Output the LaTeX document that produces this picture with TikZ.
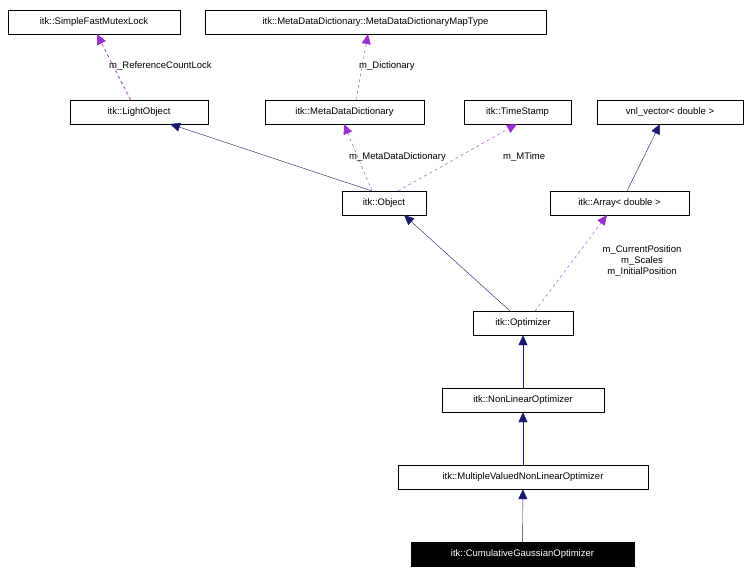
\documentclass[tikz,border=0pt]{standalone}
\usepackage{fontspec}
\setmainfont{Liberation Sans}
\usetikzlibrary{arrows.meta}
\begin{document}
\begin{tikzpicture}[x=1pt,y=-1pt,
  box/.style={draw,inner sep=0pt,minimum height=24pt,font=\fontsize{9.5}{11}\selectfont,fill=white},
  inh/.style={draw={rgb,255:red,25;green,25;blue,112},-{Triangle[length=10pt,width=9pt]}},
  use/.style={draw={rgb,255:red,153;green,50;blue,204},dashed,-{Triangle[length=10pt,width=9pt]}},
  lbl/.style={font=\fontsize{9.5}{11}\selectfont,align=center,inner sep=1pt}]
\useasboundingbox (0,0) rectangle (751,575);
\node[box,minimum width=172pt] (sfm) at (94,22) {itk::SimpleFastMutexLock};
\node[box,minimum width=341pt] (map) at (375.5,22) {itk::MetaDataDictionary::MetaDataDictionaryMapType};
\node[box,minimum width=138pt] (lo) at (139,112) {itk::LightObject};
\node[box,minimum width=159pt] (mdd) at (344.5,112) {itk::MetaDataDictionary};
\node[box,minimum width=107pt] (ts) at (517.5,112) {itk::TimeStamp};
\node[box,minimum width=146pt] (vnl) at (670,112) {vnl\_vector< double >};
\node[box,minimum width=84pt] (obj) at (384,203) {itk::Object};
\node[box,minimum width=139pt] (arr) at (619.5,203) {itk::Array< double >};
\node[box,minimum width=100pt] (opt) at (523,323) {itk::Optimizer};
\node[box,minimum width=162pt] (nlo) at (523,400) {itk::NonLinearOptimizer};
\node[box,minimum width=250pt] (mvo) at (523,477) {itk::MultipleValuedNonLinearOptimizer};
\node[box,minimum width=223pt,fill=black,text=white] (cgo) at (522.5,554) {itk::CumulativeGaussianOptimizer};

\draw[use] (lo.north) ++(-8,0) coordinate (a1) -- (sfm.south -| 97,0);
\draw[use] (130,100) -- (97,34);
\node[lbl,anchor=west] at (108,66) {m\_ReferenceCountLock};
\draw[use] (356,100) -- (368,34);
\node[lbl,anchor=west] at (358,66) {m\_Dictionary};
\draw[inh] (372,191) -- (170,124);
\draw[use] (372,191) -- (344,124);
\node[lbl,anchor=west] at (348,157) {m\_MetaDataDictionary};
\draw[use] (398,191) -- (517,124);
\node[lbl,anchor=west] at (502,157) {m\_MTime};
\draw[inh] (627,191) -- (660,124);
\draw[inh] (510,311) -- (404,215);
\draw[use] (535,311) -- (607,215);
\node[lbl] at (642,261) {m\_CurrentPosition\\m\_Scales\\m\_InitialPosition};
\draw[inh] (nlo) -- (opt);
\draw[inh] (mvo) -- (nlo);
\draw[inh] (cgo) -- (mvo);
\end{tikzpicture}
\end{document}
